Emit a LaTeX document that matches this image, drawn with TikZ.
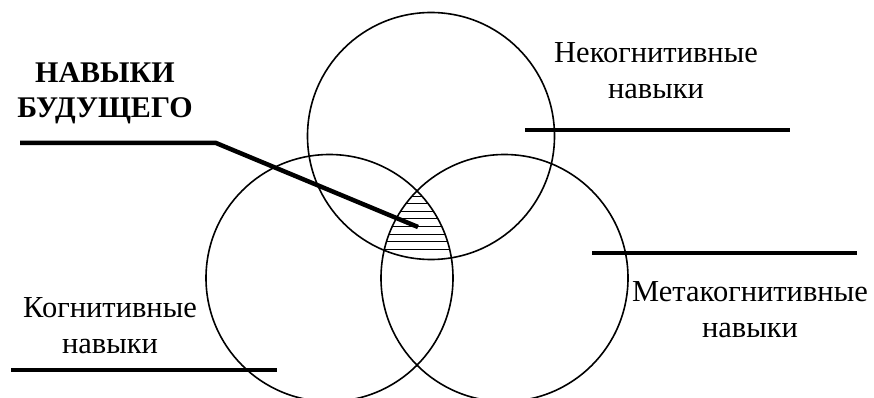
\documentclass[tikz,border=0pt]{standalone}
\usepackage{fontspec}
\setmainfont{Liberation Serif}
\usetikzlibrary{positioning, calc}

\begin{document}
\begin{tikzpicture}[x=1pt, y=-1pt,
    ring/.style={circle, draw, line width=1.6pt, minimum size=247pt, inner sep=0pt},
    bar/.style={line width=4.5pt},
    hatch/.style={line width=0.8pt},
    lbl/.style={font=\fontsize{30.5}{36}\selectfont, align=center, anchor=base, inner sep=0pt},
    blbl/.style={lbl, font=\fontsize{30}{35}\selectfont\bfseries}
  ]
  \useasboundingbox (0,0) rectangle (874,398);
  \clip (0,0) rectangle (874,398);

  % three circles
  \node[ring] (noncog) at (431,136) {};
  \node[ring] (cog) at (329.5,278) {};
  \node[ring] (metacog) at (504.5,278) {};

  % common part
  \begin{scope}
    \clip (noncog.center) circle [radius=123.5pt];
    \clip (cog.center) circle [radius=123.5pt];
    \clip (metacog.center) circle [radius=123.5pt];
    \foreach \k in {0,...,7}
      \draw[hatch] (370,196+7.6*\k) -- (470,196+7.6*\k);
  \end{scope}

  % labels (base = last line)
  \node[blbl] (future) at (105,118) {НАВЫКИ\\БУДУЩЕГО};
  \node[lbl] (noncogtxt) at (656,99) {Некогнитивные\\навыки};
  \node[lbl] (metacogtxt) at (750,337) {Метакогнитивные\\навыки};
  \node[lbl] (cogtxt) at (110,353) {Когнитивные\\навыки};

  % underlines
  \coordinate (futA) at (20,143);
  \coordinate (futB) at (216,143);
  \coordinate (futC) at (418,227);
  \draw[bar] (futA) -- (futB) -- (futC);
  \coordinate (ncA) at (525,130);
  \coordinate (ncB) at (790,130);
  \draw[bar] (ncA) -- (ncB);
  \coordinate (mcA) at (592,253);
  \coordinate (mcB) at (857,253);
  \draw[bar] (mcA) -- (mcB);
  \coordinate (cgA) at (11,370);
  \coordinate (cgB) at (277,370);
  \draw[bar] (cgA) -- (cgB);
\end{tikzpicture}
\end{document}
